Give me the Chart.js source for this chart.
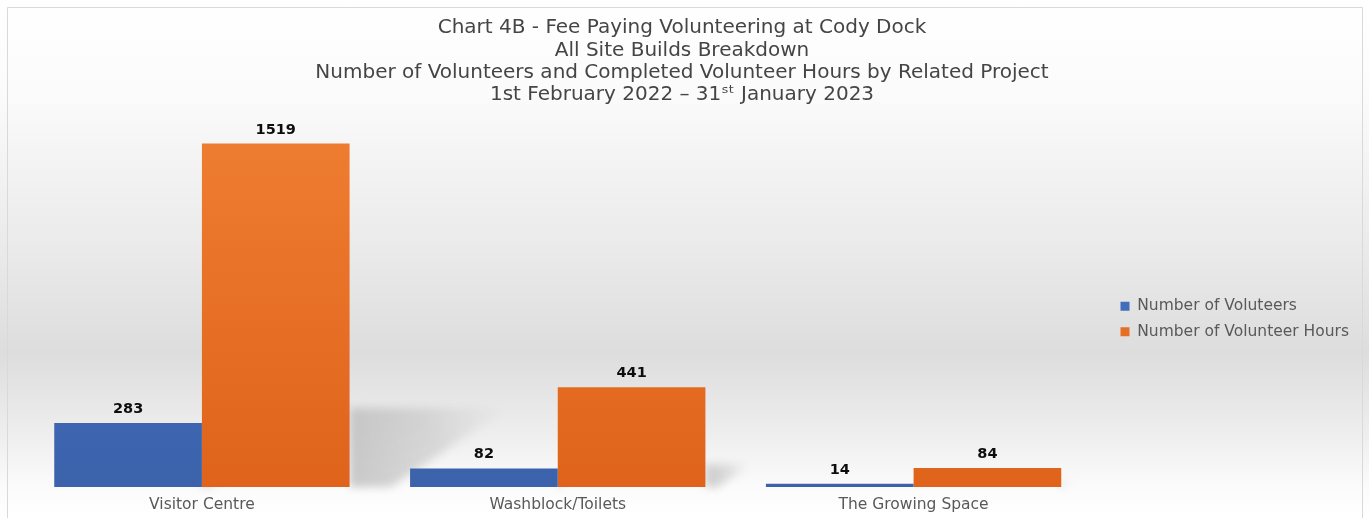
<!DOCTYPE html>
<html>
<head>
<meta charset="utf-8">
<script src="https://cdn.jsdelivr.net/npm/chart.js@4.4.0/dist/chart.umd.min.js"></script>
<style>
  html, body { margin: 0; padding: 0; background: #fff; }
  #wrap { width: 1369px; height: 518px; position: relative; }
</style>
</head>
<body>
<div id="wrap"><canvas id="chart"></canvas></div>
<script>
const categories = ["Visitor Centre", "Washblock/Toilets", "The Growing Space"];
const volunteers = [283, 82, 14];
const volunteerHours = [1519, 441, 84];
const seriesNames = ["Number of Voluteers", "Number of Volunteer Hours"];
const titleLines = [
  "Chart 4B - Fee Paying Volunteering at Cody Dock",
  "All Site Builds Breakdown",
  "Number of Volunteers and Completed Volunteer Hours by Related Project",
  "1st February 2022 \u2013 31\u02E2\u1D57 January 2023"
];

const FONT = "'DejaVu Sans', sans-serif";

// vertical gradient for a bar fill, built against the chart area
function barGradient(ctx, top, bottom){
  const chart = ctx.chart;
  const area = chart.chartArea;
  if(!area) return top;
  const g = chart.ctx.createLinearGradient(0, area.top, 0, area.bottom);
  g.addColorStop(0, top);
  g.addColorStop(1, bottom);
  return g;
}

// page background + thin frame
const backdrop = {
  id: "backdrop",
  beforeDraw(chart){
    const {ctx, width, height} = chart;
    const g = ctx.createLinearGradient(0, 0, 0, height);
    g.addColorStop(0, "#ffffff");
    g.addColorStop(0.18, "#fbfbfb");
    g.addColorStop(0.5, "#e9e9e9");
    g.addColorStop(0.68, "#dddddd");
    g.addColorStop(0.83, "#ededed");
    g.addColorStop(0.94, "#fbfbfb");
    g.addColorStop(1, "#ffffff");
    ctx.save();
    ctx.fillStyle = g;
    ctx.fillRect(0, 0, width, height);
    ctx.strokeStyle = "#d9d9d9";
    ctx.lineWidth = 1;
    ctx.beginPath();
    ctx.moveTo(7.5, height);
    ctx.lineTo(7.5, 7.5);
    ctx.lineTo(width - 6.5, 7.5);
    ctx.lineTo(width - 6.5, height);
    ctx.stroke();
    ctx.restore();
  }
};

// soft cast shadow behind each bar, taken from the bar elements
const barShadow = {
  id: "barShadow",
  beforeDatasetsDraw(chart){
    const ctx = chart.ctx;
    ctx.save();
    ctx.filter = "blur(4px)";
    chart.data.datasets.forEach((ds, i) => {
      chart.getDatasetMeta(i).data.forEach(bar => {
        const right = bar.x + bar.width / 2;
        const h = bar.base - bar.y;
        const g = ctx.createLinearGradient(right, bar.base, right + 0.46 * h, bar.base - 0.23 * h);
        g.addColorStop(0, "rgba(130,130,130,0.42)");
        g.addColorStop(0.55, "rgba(150,150,150,0.28)");
        g.addColorStop(1, "rgba(170,170,170,0)");
        ctx.fillStyle = g;
        ctx.beginPath();
        ctx.moveTo(right, bar.base);
        ctx.lineTo(right, bar.base - 0.23 * h);
        ctx.lineTo(right + 0.46 * h, bar.base - 0.23 * h);
        ctx.lineTo(right + 0.12 * h, bar.base);
        ctx.closePath();
        ctx.fill();
      });
    });
    ctx.restore();
  }
};

// bold value above every bar
const valueLabels = {
  id: "valueLabels",
  afterDatasetsDraw(chart){
    const ctx = chart.ctx;
    ctx.save();
    ctx.font = "bold 14.5px " + FONT;
    ctx.fillStyle = "#0d0d0d";
    ctx.textAlign = "center";
    ctx.textBaseline = "alphabetic";
    chart.data.datasets.forEach((ds, i) => {
      chart.getDatasetMeta(i).data.forEach((bar, j) => {
        ctx.fillText(String(ds.data[j]), bar.x, bar.y - 10);
      });
    });
    ctx.restore();
  }
};

// move the legend column right of the plot and down to mid height
const legendNudge = {
  id: "legendNudge",
  afterLayout(chart){
    const lg = chart.legend;
    if(lg){
      lg.left += 19; lg.right += 19;
      lg.top += 60; lg.bottom += 60;
    }
  }
};

new Chart(document.getElementById("chart"), {
  type: "bar",
  data: {
    labels: categories,
    datasets: [
      {
        label: seriesNames[0],
        data: volunteers,
        backgroundColor: ctx => barGradient(ctx, "#4a78c9", "#3b62ab"),
        borderWidth: 0,
        categoryPercentage: 0.83,
        barPercentage: 1
      },
      {
        label: seriesNames[1],
        data: volunteerHours,
        backgroundColor: ctx => barGradient(ctx, "#ef7e31", "#df631b"),
        borderWidth: 0,
        categoryPercentage: 0.83,
        barPercentage: 1
      }
    ]
  },
  options: {
    responsive: true,
    maintainAspectRatio: false,
    animation: false,
    layout: { padding: { left: 24, right: 29, top: 0, bottom: 0 } },
    scales: {
      x: {
        grid: { display: false, drawTicks: false },
        border: { display: false },
        ticks: { color: "#595959", font: { family: FONT, size: 15.5, lineHeight: 1 }, padding: 10 },
        afterFit(scale){ scale.height = 31; }
      },
      y: { display: false, min: 0, max: 1600 }
    },
    plugins: {
      title: {
        display: true,
        text: titleLines,
        color: "#454545",
        font: { family: FONT, size: 20, weight: "normal", lineHeight: 1.115 },
        padding: { top: 17, bottom: 19 }
      },
      legend: {
        position: "right",
        labels: {
          color: "#595959",
          font: { family: FONT, size: 15.5 },
          boxWidth: 9,
          boxHeight: 9,
          padding: 10
        }
      },
      tooltip: { enabled: false }
    }
  },
  plugins: [backdrop, barShadow, valueLabels, legendNudge]
});
</script>
</body>
</html>
